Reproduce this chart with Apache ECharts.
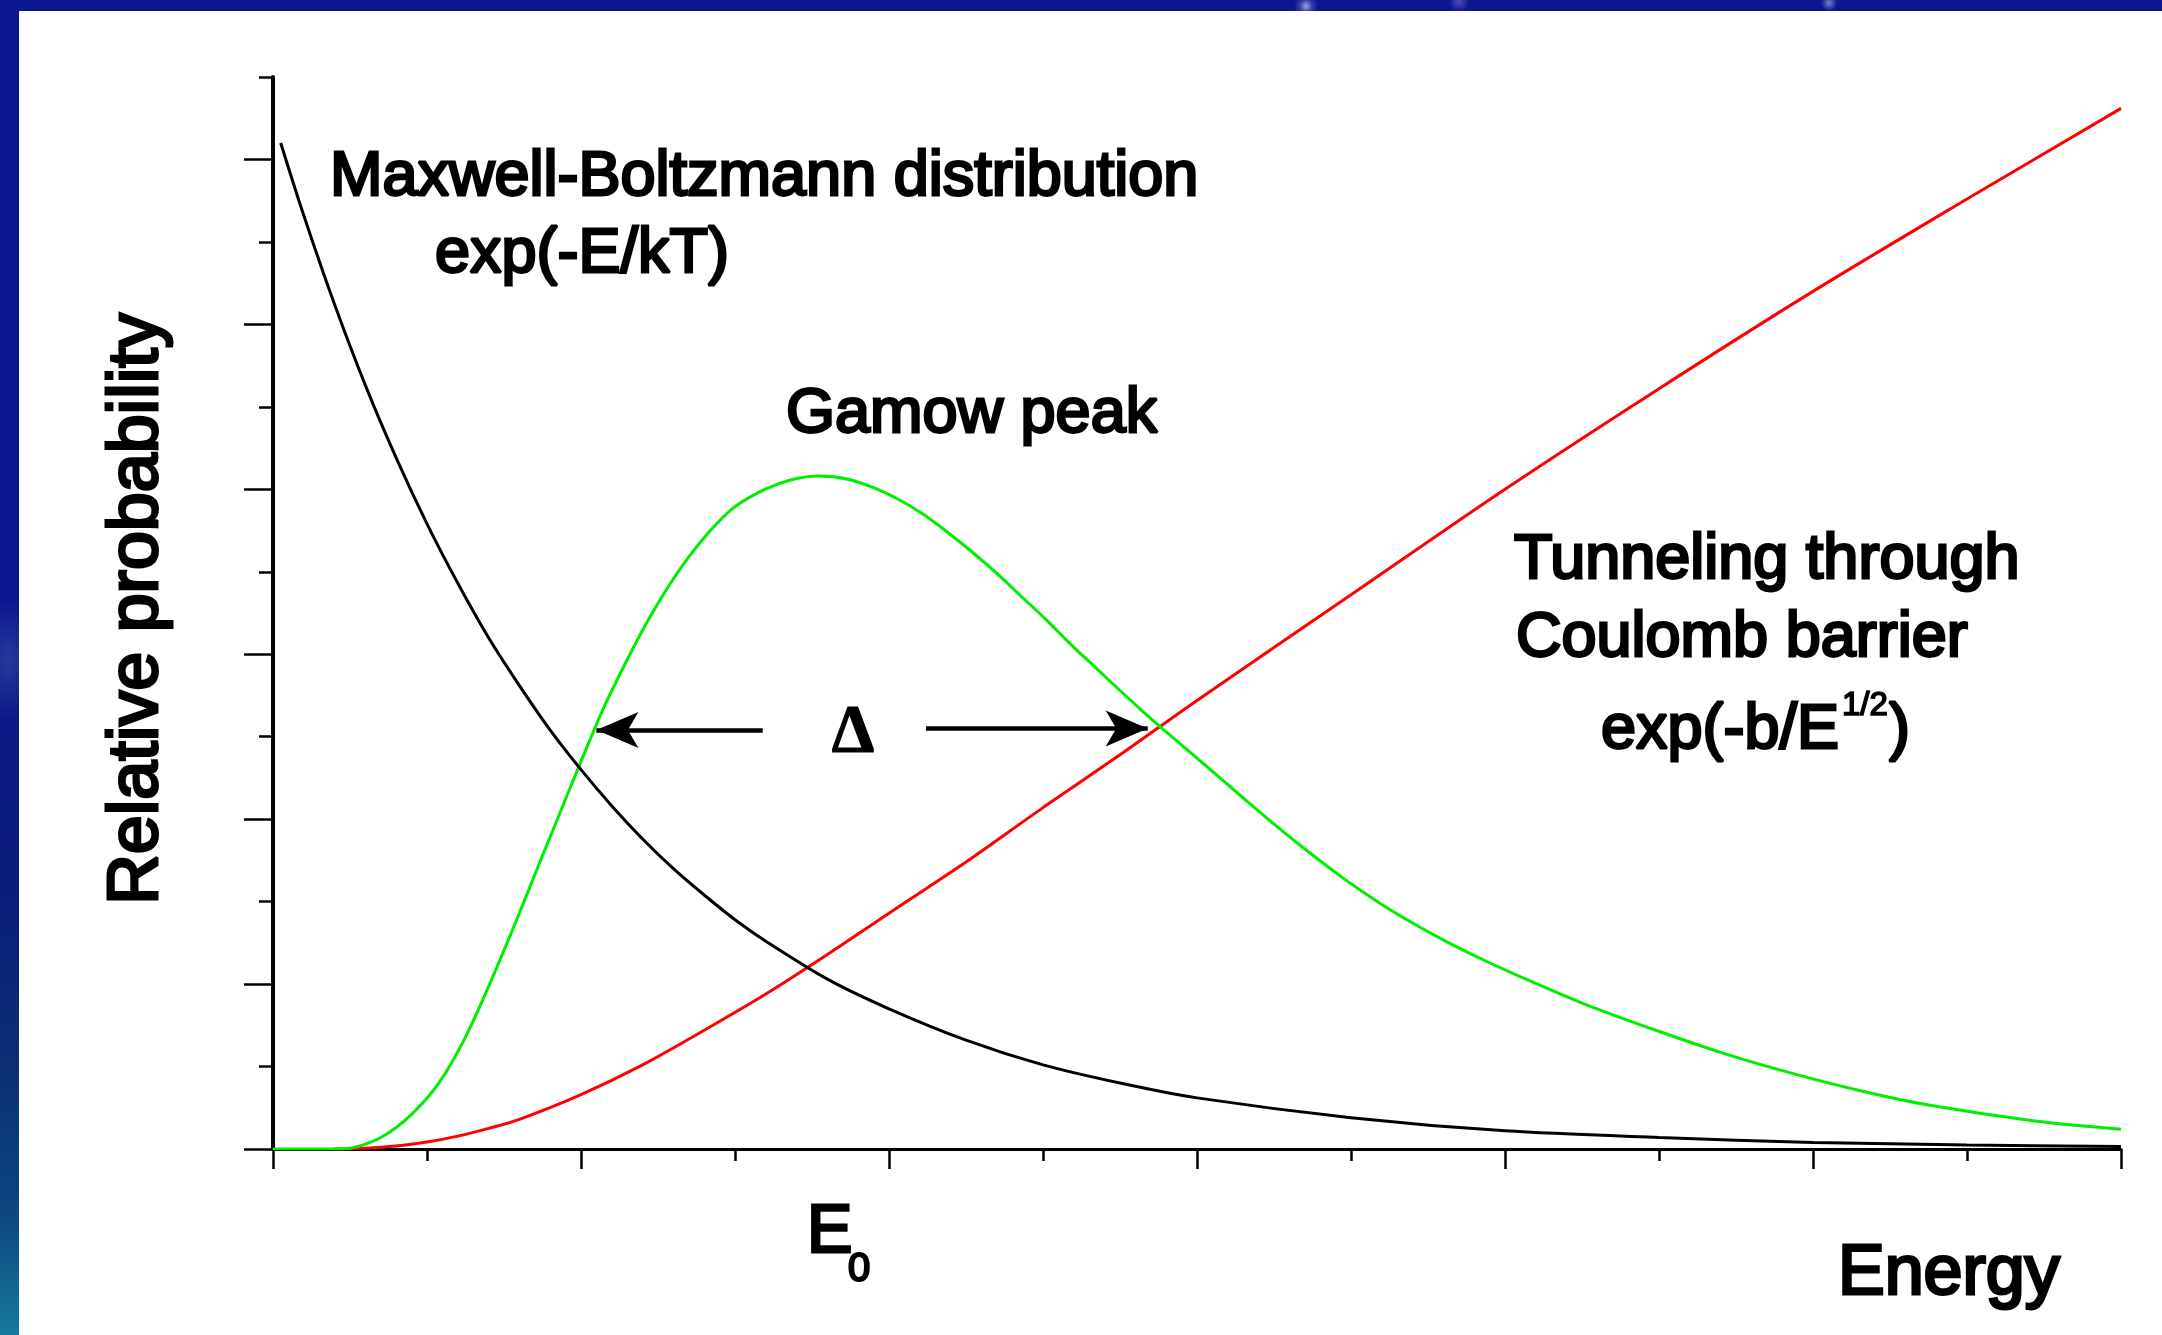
<!DOCTYPE html>
<html>
<head>
<meta charset="utf-8">
<title>Gamow peak</title>
<script src="https://cdn.jsdelivr.net/npm/echarts@6.0.0/dist/echarts.min.js"></script>
<style>
  html, body { margin: 0; padding: 0; }
  body {
    width: 2162px; height: 1335px; overflow: hidden; position: relative;
    background:
      radial-gradient(circle at 1306px 6px, rgba(190,190,235,0.85) 0, rgba(120,120,210,0.4) 6px, rgba(11,23,142,0) 12px),
      radial-gradient(circle at 1459px 2px, rgba(130,110,220,0.6) 0, rgba(11,23,142,0) 10px),
      radial-gradient(circle at 1829px 3px, rgba(170,170,230,0.7) 0, rgba(11,23,142,0) 8px),
      radial-gradient(ellipse 30px 60px at 8px 660px, rgba(90,120,190,0.35) 0, rgba(11,23,142,0) 100%),
      linear-gradient(to bottom, #0b178e 0%, #0b178e 45%, #0a1c7a 66%, #0b2f74 80%, #0c4780 91%, #17799b 100%);
  }
  #panel { position: absolute; left: 19px; top: 11px; width: 2143px; height: 1324px; background: #ffffff; }
  #chart { position: absolute; left: 0; top: 0; width: 2162px; height: 1335px; }
</style>
</head>
<body>
<div id="panel"></div>
<div id="chart"></div>
<script>
// Energy axis runs 0..6 (arbitrary units), probability axis 0..6.5.
const xMajorTicks = [0, 1, 2, 3, 4, 5, 6];
const yMajorTicks = [0, 1, 2, 3, 4, 5, 6];
const yMinorTicks = [0.5, 1.5, 2.5, 3.5, 4.5, 5.5, 6.5];

// Maxwell-Boltzmann distribution, exp(-E/kT)
const mbEnergy = [0.025, 0.1, 0.2, 0.3, 0.4, 0.5, 0.6, 0.7, 0.8, 0.9, 1.0, 1.1, 1.2, 1.3, 1.4, 1.5, 1.6, 1.8, 2.0, 2.25, 2.5, 2.75, 3.0, 3.5, 4.0, 4.5, 5.0, 5.5, 6.0];
const mbProb   = [6.10, 5.66, 5.12, 4.63, 4.19, 3.79, 3.43, 3.10, 2.81, 2.54, 2.30, 2.08, 1.88, 1.70, 1.54, 1.39, 1.26, 1.03, 0.85, 0.66, 0.51, 0.40, 0.31, 0.19, 0.11, 0.07, 0.04, 0.025, 0.015];

// Tunneling through the Coulomb barrier, exp(-b/E^1/2)
const tunnelEnergy = [0.2, 0.3, 0.4, 0.5, 0.6, 0.7, 0.8, 1.0, 1.2, 1.4, 1.6, 1.8, 2.0, 2.25, 2.5, 2.75, 3.0, 3.5, 4.0, 4.5, 5.0, 5.5, 6.0];
const tunnelProb   = [0.0, 0.005, 0.018, 0.042, 0.078, 0.125, 0.18, 0.33, 0.51, 0.72, 0.94, 1.18, 1.43, 1.74, 2.07, 2.39, 2.72, 3.36, 4.00, 4.61, 5.20, 5.76, 6.31];

// Gamow peak (product of the two)
const gamowEnergy = [0, 0.19, 0.25, 0.30, 0.35, 0.40, 0.45, 0.51, 0.56, 0.62, 0.68, 0.74, 0.80, 0.86, 0.93, 1.00, 1.07, 1.14, 1.21, 1.28, 1.35, 1.42, 1.49, 1.56, 1.63, 1.70, 1.77, 1.87, 1.95, 2.03, 2.11, 2.19, 2.27, 2.35, 2.43, 2.51, 2.59, 2.67, 2.75, 2.82, 2.89, 3.00, 3.14, 3.26, 3.37, 3.48, 3.59, 3.70, 3.81, 3.92, 4.04, 4.25, 4.49, 4.71, 4.93, 5.15, 5.38, 5.72, 6.0];
const gamowProb   = [0, 0, 0.005, 0.03, 0.07, 0.13, 0.21, 0.33, 0.46, 0.66, 0.90, 1.16, 1.43, 1.71, 2.03, 2.35, 2.66, 2.93, 3.18, 3.40, 3.59, 3.75, 3.88, 3.965, 4.025, 4.065, 4.08, 4.06, 4.01, 3.94, 3.85, 3.74, 3.62, 3.49, 3.35, 3.21, 3.06, 2.92, 2.78, 2.66, 2.545, 2.37, 2.145, 1.955, 1.79, 1.635, 1.495, 1.37, 1.257, 1.155, 1.053, 0.885, 0.72, 0.58, 0.46, 0.355, 0.265, 0.17, 0.12];

const pairs = (xs, ys) => xs.map((x, i) => [x, ys[i]]);

const SANS = '"Liberation Sans", Arial, Helvetica, sans-serif';
const SERIF = '"Liberation Serif", "Times New Roman", serif';

// text placed by its baseline
function txt(text, x, baseline, size, opts) {
  opts = opts || {};
  return {
    type: 'text',
    x: x,
    y: opts.center ? baseline : baseline - 0.32 * size + 3,
    rotation: opts.rotation || 0,
    z: 100,
    style: {
      text: text,
      font: (opts.weight || 'normal') + ' ' + size + 'px ' + (opts.family || SANS),
      fill: '#000',
      stroke: '#000',
      lineWidth: opts.stroke == null ? 2.8 : opts.stroke,
      lineJoin: 'round',
      align: opts.align || 'left',
      verticalAlign: 'middle'
    }
  };
}

const chart = echarts.init(document.getElementById('chart'), null, { renderer: 'canvas' });

const tickStyle = { color: '#000', width: 2.5 };

chart.setOption({
  animation: false,
  backgroundColor: 'transparent',
  grid: { left: 273, right: 41, top: 77, bottom: 186, containLabel: false },
  xAxis: {
    type: 'value', min: 0, max: 6, interval: 1,
    axisLine: { show: true, onZero: true, lineStyle: { color: '#000', width: 3 } },
    axisTick: { show: true, length: 20, customValues: xMajorTicks, lineStyle: tickStyle },
    minorTick: { show: true, splitNumber: 2, length: 12, lineStyle: tickStyle },
    axisLabel: { show: false },
    splitLine: { show: false }
  },
  yAxis: [
    {
      type: 'value', min: 0, max: 6.5, interval: 0.5,
      axisLine: { show: true, onZero: false, lineStyle: { color: '#000', width: 4 } },
      axisTick: { show: true, length: 29, customValues: yMajorTicks, lineStyle: tickStyle },
      axisLabel: { show: false },
      splitLine: { show: false }
    },
    {
      type: 'value', min: 0, max: 6.5, interval: 0.5, position: 'left',
      axisLine: { show: false },
      axisTick: { show: true, length: 14, customValues: yMinorTicks, lineStyle: tickStyle },
      axisLabel: { show: false },
      splitLine: { show: false }
    }
  ],
  series: [
    {
      name: 'Tunneling through Coulomb barrier', type: 'line', smooth: 0.3,
      showSymbol: false, data: pairs(tunnelEnergy, tunnelProb),
      lineStyle: { color: '#ff0000', width: 3 }, z: 3
    },
    {
      name: 'Gamow peak', type: 'line', smooth: 0.3,
      showSymbol: false, data: pairs(gamowEnergy, gamowProb),
      lineStyle: { color: '#00ee00', width: 3 }, z: 4,
      markLine: {
        silent: true,
        symbol: ['none', 'arrow'],
        symbolSize: [27, 42],
        label: { show: false },
        emphasis: { disabled: true },
        lineStyle: { color: '#000', width: 4.5, type: 'solid' },
        data: [
          [{ coord: [1.59, 2.54] }, { coord: [1.05, 2.54] }],
          [{ coord: [2.12, 2.55] }, { coord: [2.84, 2.55] }]
        ]
      }
    },
    {
      name: 'Maxwell-Boltzmann distribution', type: 'line', smooth: 0.3,
      showSymbol: false, data: pairs(mbEnergy, mbProb),
      lineStyle: { color: '#000', width: 3 }, z: 5
    }
  ],
  graphic: [
    txt('Maxwell-Boltzmann distribution', 330, 195, 63),
    txt('exp(-E/kT)', 435, 272, 63),
    txt('Gamow peak', 786, 432, 63),
    txt('Tunneling through', 1514, 578, 63),
    txt('Coulomb barrier', 1516, 656, 63),
    txt('exp(-b/E', 1601, 748, 63),
    txt('1/2', 1842, 713, 33, { stroke: 1.6 }),
    txt(')', 1889, 748, 63),
    txt('\u0394', 853, 752, 68, { family: SERIF, weight: 'bold', align: 'center', stroke: 1.2 }),
    txt('Relative probability', 138, 609, 70, { rotation: Math.PI / 2, align: 'center', center: true, stroke: 3 }),
    txt('E', 807, 1252, 68, { stroke: 3 }),
    txt('0', 848, 1280, 40, { stroke: 2.2 }),
    txt('Energy', 1838, 1294, 70, { stroke: 3 })
  ]
});
</script>
</body>
</html>
